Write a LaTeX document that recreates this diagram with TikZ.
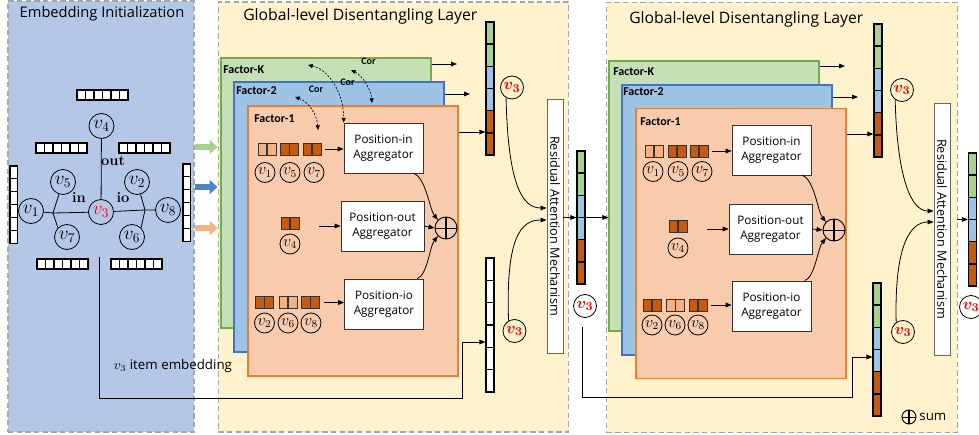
\documentclass[tikz,border=0pt]{standalone}
\usepackage{amsmath}
\usepackage{fontspec}
\usetikzlibrary{arrows.meta}
\newfontfamily\osans{Open Sans}
\newfontfamily\calib{Carlito}

\definecolor{embblue}{HTML}{B4C7E7}
\definecolor{layyellow}{HTML}{FFF2CC}
\definecolor{fkgreen}{HTML}{C5E0B4}
\definecolor{fkline}{HTML}{70AD47}
\definecolor{f2blue}{HTML}{9DC3E6}
\definecolor{f2line}{HTML}{4472C4}
\definecolor{f1orange}{HTML}{F8CBAD}
\definecolor{f1line}{HTML}{ED7D31}
\definecolor{cdark}{HTML}{C55A11}
\definecolor{clight}{HTML}{F4B183}
\definecolor{vgreen}{HTML}{A9D18E}
\definecolor{vblue}{HTML}{9DC3E6}
\definecolor{ablue}{HTML}{4F86C6}

\tikzset{
  tip/.style={-{Triangle[length=4.5pt,width=3.5pt]}, line width=0.6pt},
  cortip/.style={{Triangle[length=3.5pt,width=3pt]}-{Triangle[length=3.5pt,width=3pt]}, dash pattern=on 1.5pt off 1.2pt, line width=0.5pt},
  fatarrow/.style={line width=4.5pt, -{Triangle[length=6pt,width=10.5pt]}},
  panel/.style={draw=black!35, line width=1.1pt, dash pattern=on 4pt off 2.5pt, inner sep=0},
  title/.style={font=\osans\fontsize{11.8}{13}\selectfont, inner sep=0},
  plain/.style={font=\osans\fontsize{10}{11}\selectfont, inner sep=0},
  factor/.style={inner sep=0, line width=0.8pt, minimum width=157.5pt, minimum height=202.5pt},
  flabel/.style={font=\calib\bfseries\fontsize{9}{10}\selectfont, anchor=west, inner sep=0},
  corlabel/.style={font=\calib\bfseries\fontsize{7.5}{8}\selectfont, inner sep=0},
  elabel/.style={font=\bfseries\fontsize{11}{11}\selectfont, inner sep=0},
  gline/.style={line width=0.6pt},
  gnode/.style={circle, draw, line width=0.6pt, inner sep=0, minimum size=18.75pt, font=\fontsize{14.5}{14.5}\selectfont},
  snode/.style={circle, draw, line width=0.6pt, inner sep=0, minimum size=15pt, font=\fontsize{12}{12}\selectfont},
  rnode/.style={circle, draw, line width=0.6pt, inner sep=0, minimum size=17.25pt, text=red, font=\boldmath\fontsize{13}{13}\selectfont},
  agg/.style={draw=black!80, fill=white, line width=0.6pt, minimum width=59.25pt, minimum height=37.5pt, align=center, inner sep=0, font=\osans\fontsize{8.8}{10.7}\selectfont},
  sumnode/.style={circle, draw, line width=0.7pt, inner sep=0, minimum size=16.5pt,
    path picture={\draw[line width=1.1pt] (path picture bounding box.north) -- (path picture bounding box.south);
                  \draw[line width=0.7pt] (path picture bounding box.west) -- (path picture bounding box.east);}},
  pair/.style={draw=black!80, line width=0.5pt, minimum width=13.5pt, minimum height=9pt, inner sep=0,
    path picture={\draw[line width=1.1pt] (path picture bounding box.north) -- (path picture bounding box.south);}},
  pairdark/.style={pair, fill=cdark},
  pairlight/.style={pair, fill=clight},
  cellw/.style={draw, fill=white, line width=0.8pt},
  cell/.style={draw, line width=1.1pt},
  vecbar/.style={draw, line width=0.9pt, inner sep=0, minimum width=6pt, minimum height=99.75pt},
  rambox/.style={draw=black!60, fill=white, line width=0.7pt, inner sep=0, minimum width=12pt},
  ramtext/.style={rotate=-90, font=\osans\fontsize{9.5}{11}\selectfont, inner sep=0}
}

\begin{document}
\begin{tikzpicture}[x=0.75pt,y=-0.75pt]
\useasboundingbox (0,0) rectangle (979,435);

% Panels
\node[panel, fill=embblue, minimum width=139.5pt, minimum height=323.25pt] (embpanel) at (101,216.5) {};
\node[panel, fill=layyellow, minimum width=262.5pt, minimum height=322.5pt] (lay1) at (393.3,217) {};
\node[panel, fill=layyellow, minimum width=262.9pt, minimum height=322.5pt] (lay2) at (782,217.5) {};
\node[title, font=\osans\fontsize{11}{13}\selectfont] (embtitle) at (102,14) {Embedding Initialization};
\node[title, anchor=west] (lay1title) at (243,16) {Global-level Disentangling Layer};
\node[title, anchor=west] (lay2title) at (629,19) {Global-level Disentangling Layer};

% Embedding Initialization: session graph
\node[gnode] (v4) at (101.5,126) {$v_4$};
\node[gnode] (v5) at (63,182) {$v_5$};
\node[gnode] (v1) at (31,211) {$v_1$};
\node[gnode] (v7) at (67,237) {$v_7$};
\node[gnode, text=red] (v3) at (101,212) {$v_3$};
\node[gnode] (v2) at (137,182) {$v_2$};
\node[gnode] (v8) at (168,210) {$v_8$};
\node[gnode] (v6) at (132,237) {$v_6$};
\coordinate (jl) at (53,213);
\coordinate (jr) at (145,210);
\draw[gline] (v4) -- (v3);
\draw[gline] (v1) -- (jl) -- (v3) -- (jr) -- (v8);
\draw[gline] (v5) -- (jl) -- (v7.north west);
\draw[gline] (v2) -- (jr) -- (v6.north east);
\node[elabel] (lout) at (113,161) {out};
\node[elabel] (lin) at (79,198) {in};
\node[elabel] (lio) at (123,198) {io};

% Embedding bars
\foreach \bx/\by in {77/90, 36/143, 119/143, 37/259, 111/259}
  \foreach \i in {0,...,5}
    \draw[cellw] ({\bx+\i*8.5},\by) rectangle +(8.5,10);
\foreach \bx/\by in {10/166, 183/164}
  \foreach \i in {0,...,5}
    \draw[cellw] (\bx,{\by+\i*12.9}) rectangle +(7.5,12.9);

% Factor streams into layer 1
\draw[fatarrow, vgreen] (embpanel.east |- 0,147) -- (lay1.west |- 0,147);
\draw[fatarrow, ablue] (embpanel.east |- 0,187) -- (lay1.west |- 0,187);
\draw[fatarrow, clight] (embpanel.east |- 0,228) -- (lay1.west |- 0,228);

% Layer 1: factors
\node[factor, draw=fkline, fill=fkgreen] (fk1) at (326,193) {};
\node[factor, draw=f2line, fill=f2blue] (f21) at (339,217) {};
\node[factor, draw=f1line, fill=f1orange] (f11) at (353,241) {};
\node[flabel] (fk1t) at (223,69.5) {Factor-K};
\node[flabel] (f21t) at (236,90.5) {Factor-2};
\node[flabel] (f11t) at (254,119) {Factor-1};

\node[agg] (pin1) at (383.5,148) {Position-in\\Aggregator};
\node[agg, minimum width=62.25pt] (pout1) at (382.5,226) {Position-out\\Aggregator};
\node[agg] (pio1) at (384,304) {Position-io\\Aggregator};
\node[sumnode] (sum1) at (446,228) {};

\node[pairlight] (b1v1) at (267,149) {};
\node[pairdark] (b1v5) at (289.5,149) {};
\node[pairdark] (b1v7) at (312,149) {};
\node[snode] (n1v1) at (265,172.5) {$v_1$};
\node[snode] (n1v5) at (290,172.5) {$v_5$};
\node[snode] (n1v7) at (314,172.5) {$v_7$};
\node[pairdark] (b1v4) at (290,223.5) {};
\node[snode] (n1v4) at (290,244) {$v_4$};
\node[pairdark] (b1v2) at (264.5,302.5) {};
\node[pairlight] (b1v6) at (288,302.5) {};
\node[pairdark] (b1v8) at (310.5,302.5) {};
\node[snode] (n1v2) at (264.5,323) {$v_2$};
\node[snode] (n1v6) at (288,323) {$v_6$};
\node[snode] (n1v8) at (311,323) {$v_8$};

\draw[tip, shorten <=3pt] (b1v7.east) -- (b1v7.east -| pin1.west);
\draw[tip, shorten <=15pt] (b1v4.east |- pout1) -- (pout1.west);
\draw[tip, shorten <=3pt] (b1v8.east) -- (b1v8.east -| pio1.west);
\draw[tip] ([xshift=-7.5pt]pin1.south east) .. controls +(12,3) and +(-8,-10) .. (sum1.north west);
\draw[tip] (pout1.east) -- (sum1.west);
\draw[tip] ([xshift=-5pt]pio1.north east) .. controls +(10,-3) and +(-8,10) .. (sum1.south west);

% Correlation between factors
\coordinate (cora1) at (295,97);
\coordinate (corb1) at (318,130);
\coordinate (cora2) at (308,65);
\coordinate (cora3) at (351,70);
\coordinate (corb3) at (372,103);
\draw[cortip] (cora1) .. controls (307,101) and (317,113) .. (corb1);
\draw[cortip] (cora2) .. controls (330,70) and (344,95) .. (pin1.north west);
\draw[cortip] (cora3) .. controls (363,76) and (371,90) .. (corb3);
\node[corlabel] (cor1t) at (316,89.5) {Cor};
\node[corlabel] (cor2t) at (347.5,82) {Cor};
\node[corlabel] (cor3t) at (368.5,61) {Cor};

% Layer 1: concatenated factors
\foreach \c [count=\i from 0] in {vgreen,vgreen,vblue,vblue,cdark,cdark}
  \draw[cell, fill=\c] (486,{22+\i*22.17}) rectangle +(8,22.17);
\node[vecbar] (top1) at (490,88.5) {};
\foreach \i in {0,...,5}
  \draw[cell, fill=white] (486,{258+\i*22.33}) rectangle +(8,22.33);
\node[vecbar, minimum height=100.5pt] (bot1) at (490,325) {};
\coordinate (ok1) at (457,64);
\coordinate (o21) at (470,94);
\draw[tip] (fk1.east |- ok1) -- (ok1);
\draw[tip] (f21.east |- o21) -- (o21);
\draw[tip] (f11.east |- 0,132) -- (top1.west |- 0,132);

% v3 item embedding
\coordinate (embstart) at (99,257);
\coordinate (embturn) at (462,398);
\draw[tip] (embstart) |- (embturn) |- (bot1.west |- 0,342);
\node[plain] (embtext) at (173,366) {$v_3$ item embedding};

% Layer 1: residual attention
\node[rnode] (r1a) at (512,87.5) {$v_3$};
\node[rnode] (r1b) at (514.5,331) {$v_3$};
\node[rambox, minimum height=190.5pt] (ram1) at (555,226) {};
\node[ramtext] (ram1t) at (ram1) {Residual Attention Mechanism};
\draw[tip] (r1a.240) .. controls +(2,85) and +(-25,0) .. (ram1.west |- 0,208);
\draw[tip] (r1b.120) .. controls +(-3,-85) and +(-25,0) .. (ram1.west |- 0,220);

\foreach \c [count=\i from 0] in {vgreen,vgreen,vblue,vblue,cdark,cdark}
  \draw[cell, fill=\c] (577,{151+\i*22.17}) rectangle +(8,22.17);
\node[vecbar] (mid1) at (581,217.5) {};
\node[rnode] (r1c) at (585,306) {$v_3$};
\draw[tip] (ram1.east |- mid1) -- (mid1.west);

% Layer 2: factors
\node[factor, draw=fkline, fill=fkgreen] (fk2) at (714,196) {};
\node[factor, draw=f2line, fill=f2blue] (f22) at (727,220) {};
\node[factor, draw=f1line, fill=f1orange] (f12) at (741,243.5) {};
\node[flabel] (fk2t) at (613,71.5) {Factor-K};
\node[flabel] (f22t) at (623,91.5) {Factor-2};
\node[flabel] (f12t) at (640,121.5) {Factor-1};
\draw[tip] (mid1.east) -- (mid1.east -| fk2.west);

\node[agg] (pin2) at (771.5,150) {Position-in\\Aggregator};
\node[agg, minimum width=62.25pt] (pout2) at (770.5,229) {Position-out\\Aggregator};
\node[agg] (pio2) at (771.5,306) {Position-io\\Aggregator};
\node[sumnode] (sum2) at (834,230) {};

\node[pairlight] (b2v1) at (654,151) {};
\node[pairdark] (b2v5) at (677,151) {};
\node[pairdark] (b2v7) at (699,151) {};
\node[snode] (n2v1) at (653,171.5) {$v_1$};
\node[snode] (n2v5) at (678,171.5) {$v_5$};
\node[snode] (n2v7) at (702,171.5) {$v_7$};
\node[pairdark] (b2v4) at (678,226) {};
\node[snode] (n2v4) at (678,248) {$v_4$};
\node[pairdark] (b2v2) at (652,305) {};
\node[pairlight] (b2v6) at (675.5,305) {};
\node[pairdark] (b2v8) at (698,305) {};
\node[snode] (n2v2) at (652,325) {$v_2$};
\node[snode] (n2v6) at (675,325) {$v_6$};
\node[snode] (n2v8) at (698,325) {$v_8$};

\draw[tip, shorten <=3pt] (b2v7.east) -- (b2v7.east -| pin2.west);
\draw[tip, shorten <=15pt] (b2v4.east |- pout2) -- (pout2.west);
\draw[tip, shorten <=3pt] (b2v8.east) -- (b2v8.east -| pio2.west);
\draw[tip] ([xshift=-7pt]pin2.south east) .. controls +(12,3) and +(-8,-10) .. (sum2.north west);
\draw[tip] (pout2.east) -- (sum2.west);
\draw[tip] ([xshift=-5pt]pio2.north east) .. controls +(10,-3) and +(-8,10) .. (sum2.south west);

% Layer 2: concatenated factors
\foreach \c [count=\i from 0] in {vgreen,vgreen,vblue,vblue,cdark,cdark}
  \draw[cell, fill=\c] (874,{24+\i*22.17}) rectangle +(8,22.17);
\node[vecbar] (top2) at (878,90.5) {};
\foreach \c [count=\i from 0] in {vgreen,vgreen,vblue,vblue,cdark,cdark}
  \draw[cell, fill=\c] (873,{283+\i*22.17}) rectangle +(8,22.17);
\node[vecbar] (bot2) at (877,349.5) {};
\coordinate (ok2) at (845,66);
\coordinate (o22) at (858,97);
\draw[tip] (fk2.east |- ok2) -- (ok2);
\draw[tip] (f22.east |- o22) -- (o22);
\draw[tip] (f12.east |- 0,134) -- (top2.west |- 0,134);

% output of layer 1 as residual input
\coordinate (midstart) at (582,327);
\coordinate (midturn) at (852,397);
\draw[tip] (midstart) |- (midturn) |- (bot2.west |- 0,357);

% Layer 2: residual attention
\node[rnode] (r2a) at (902,90) {$v_3$};
\node[rnode] (r2b) at (903,332) {$v_3$};
\node[rambox, minimum height=189pt] (ram2) at (942,229) {};
\node[ramtext] (ram2t) at (ram2) {Residual Attention Mechanism};
\draw[tip] (r2a.235) .. controls +(2,80) and +(-22,0) .. (ram2.west |- 0,211);
\draw[tip] (r2b.125) .. controls +(-2,-80) and +(-22,0) .. (ram2.west |- 0,222);

\foreach \c [count=\i from 0] in {vgreen,vgreen,vblue,vblue,cdark,cdark}
  \draw[cell, fill=\c] (968.5,{153+\i*22.17}) rectangle +(8,22.17);
\node[vecbar] (fin) at (972.5,219.5) {};
\node[rnode] (r2c) at (971,307) {$v_3$};
\draw[tip, shorten <=5pt] (ram2.east |- fin) -- (fin.west);

% legend
\node[sumnode, minimum size=10.5pt] (sumkey) at (909,417) {};
\node[plain, anchor=west] (sumkeyt) at ([xshift=2pt]sumkey.east) {sum};

\end{tikzpicture}
\end{document}
